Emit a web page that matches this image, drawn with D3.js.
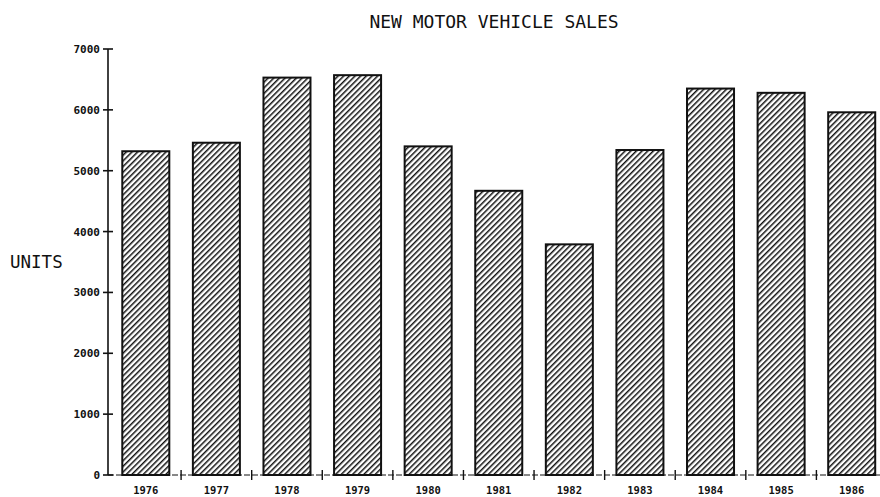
<!DOCTYPE html>
<html>
<head>
<meta charset="utf-8">
<script src="https://cdn.jsdelivr.net/npm/d3@7"></script>
<style>
  body { margin: 0; background: #fff; }
  svg { display: block; }
</style>
</head>
<body>
<svg id="svg" width="880" height="497"></svg>
<script>
// values
let years = ['1976', '1977', '1978', '1979', '1980', '1981', '1982', '1983', '1984', '1985', '1986'];
let units = [5320, 5460, 6530, 6570, 5400, 4670, 3790, 5340, 6350, 6280, 5960];
let yTicks = [0, 1000, 2000, 3000, 4000, 5000, 6000, 7000];

let svg = d3.select('#svg');
let mono = '"DejaVu Sans Mono", "Liberation Mono", monospace';

// diagonal hatching for the bars
svg.append('defs')
  .append('pattern')
  .attr('id', 'hatch')
  .attr('patternUnits', 'userSpaceOnUse')
  .attr('width', 4)
  .attr('height', 10)
  .attr('patternTransform', 'rotate(45)')
  .append('rect')
  .attr('x', 0)
  .attr('y', 0)
  .attr('width', 1.5)
  .attr('height', 10)
  .attr('fill', '#111');

let xScale = d3.scaleBand()
  .domain(years)
  .range([110.5, 887])
  .paddingInner(0.334)
  .paddingOuter(0.167);

let yScale = d3.scaleLinear()
  .domain([0, 7000])
  .range([475, 49]);

let axisX = 108;
let baseY = yScale(0);

// title
svg.append('text')
  .attr('x', 494)
  .attr('y', 28)
  .attr('text-anchor', 'middle')
  .attr('font-family', mono)
  .attr('font-size', 18)
  .attr('fill', '#111')
  .text('NEW MOTOR VEHICLE SALES');

// y label
svg.append('text')
  .attr('x', 10)
  .attr('y', 268)
  .attr('font-family', mono)
  .attr('font-size', 17.5)
  .attr('fill', '#111')
  .text('UNITS');

// bars
svg.append('g')
  .selectAll('rect')
  .data(years)
  .enter()
  .append('rect')
  .attr('x', d => xScale(d))
  .attr('y', (d, i) => yScale(units[i]))
  .attr('width', xScale.bandwidth())
  .attr('height', (d, i) => baseY - yScale(units[i]))
  .attr('fill', 'url(#hatch)')
  .attr('stroke', '#111')
  .attr('stroke-width', 2);

// y axis
let gY = svg.append('g');
gY.append('line')
  .attr('x1', axisX).attr('x2', axisX)
  .attr('y1', yScale(7000)).attr('y2', baseY)
  .attr('stroke', '#111')
  .attr('stroke-width', 1.6);
gY.selectAll('line.tick')
  .data(yTicks)
  .enter()
  .append('line')
  .attr('class', 'tick')
  .attr('x1', axisX - 5).attr('x2', axisX + 5)
  .attr('y1', d => yScale(d)).attr('y2', d => yScale(d))
  .attr('stroke', '#111')
  .attr('stroke-width', 1.6);
gY.selectAll('text')
  .data(yTicks)
  .enter()
  .append('text')
  .attr('x', 100)
  .attr('y', d => yScale(d))
  .attr('dy', '0.36em')
  .attr('text-anchor', 'end')
  .attr('font-family', mono)
  .attr('font-weight', 'bold')
  .attr('font-size', 11)
  .attr('fill', '#111')
  .text(d => d);

// x axis
let gX = svg.append('g');
gX.append('line')
  .attr('x1', axisX).attr('x2', 880)
  .attr('y1', baseY).attr('y2', baseY)
  .attr('stroke', '#111')
  .attr('stroke-width', 1)
  .attr('stroke-dasharray', '6,2');
let bounds = years.slice(1).map(d => xScale(d) - xScale.step() * xScale.paddingInner() / 2);
gX.selectAll('line.sep')
  .data(bounds)
  .enter()
  .append('line')
  .attr('class', 'sep')
  .attr('x1', d => d).attr('x2', d => d)
  .attr('y1', baseY - 5).attr('y2', baseY + 5)
  .attr('stroke', '#111')
  .attr('stroke-width', 1.4);
gX.selectAll('text')
  .data(years)
  .enter()
  .append('text')
  .attr('x', d => xScale(d) + xScale.bandwidth() / 2)
  .attr('y', 494)
  .attr('text-anchor', 'middle')
  .attr('font-family', mono)
  .attr('font-weight', 'bold')
  .attr('font-size', 10.5)
  .attr('fill', '#111')
  .text(d => d);
</script>
</body>
</html>
